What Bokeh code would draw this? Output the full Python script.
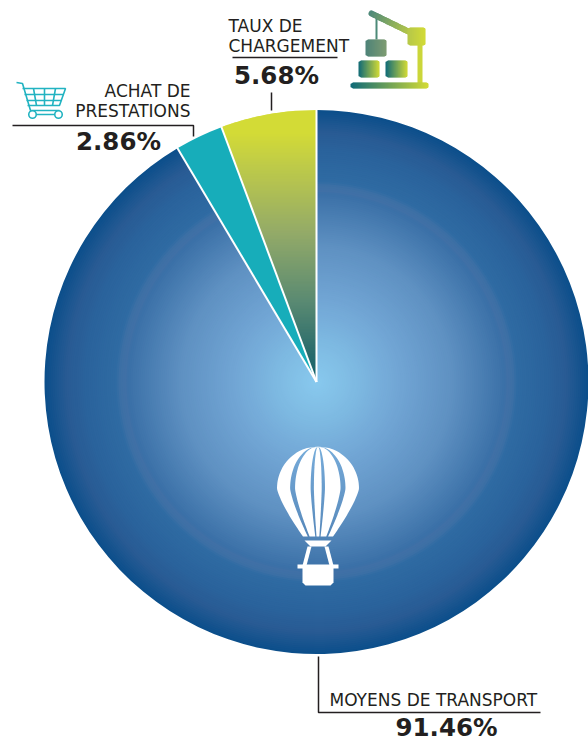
import numpy as np
from bokeh.plotting import figure
from bokeh.embed import file_html
from bokeh.resources import INLINE
from bokeh.models import Range1d
from bokeh.core.properties import value

categories = ["TAUX DE CHARGEMENT", "ACHAT DE PRESTATIONS", "MOYENS DE TRANSPORT"]
shares = [5.68, 2.86, 91.46]
share_labels = ["5.68%", "2.86%", "91.46%"]

WIDTH, HEIGHT = 588, 742
CX_PX, CY_PX, R = 316.0, 381.5, 272.0
INK = "#231f20"
TEAL = "#17adba"
FONT = "DejaVu Sans"


def X(px):
    return px


def Y(py):
    return 742 - py


def hexrgb(c):
    return np.array([int(c[i:i + 2], 16) for i in (1, 3, 5)], float)


def ramp(t, stops):
    ts = [s[0] for s in stops]
    rgb = np.array([hexrgb(s[1]) for s in stops])
    v = [np.interp(t, ts, rgb[:, k]) for k in range(3)]
    return "#%02x%02x%02x" % tuple(int(round(a)) for a in v)


p = figure(width=WIDTH, height=HEIGHT, output_backend="svg", toolbar_location=None,
           x_range=Range1d(0, 588), y_range=Range1d(0, 742), min_border=0,
           outline_line_color=None, background_fill_color="white", border_fill_color="white")
p.axis.visible = False
p.grid.visible = False

cx, cy = X(CX_PX), Y(CY_PX)
angs = np.cumsum([0] + shares) / 100 * 2 * np.pi + np.pi / 2

blue_stops = [(0, "#88c9ee"), (0.12, "#80bde4"), (0.3, "#72a6d5"), (0.5, "#5f91c2"), (0.675, "#3f74aa"),
              (0.695, "#3a70a8"), (0.705, "#4070a6"), (0.725, "#3e70a5"), (0.74, "#2f6ba3"),
              (0.85, "#2a639c"), (0.92, "#295b94"), (1.0, "#0c4f8b")]
rad = np.arange(R, 0, -2.0)
p.wedge(x=[cx] * len(rad), y=[cy] * len(rad), radius=rad, start_angle=angs[2], end_angle=angs[3],
        fill_color=[ramp(r / R, blue_stops) for r in rad], line_color=None)

p.wedge(x=[cx], y=[cy], radius=[R], start_angle=angs[1], end_angle=angs[2],
        fill_color=TEAL, line_color=None)

yellow_stops = [(0, "#0f5f68"), (0.12, "#2c6d6d"), (0.3, "#5a8a72"), (0.55, "#93aa68"),
                (0.8, "#bfcb48"), (0.92, "#d3db36"), (1, "#d3db36")]
tan_a = np.tan(angs[1] - angs[0])


def left_edge(h):
    return -min(h * tan_a, np.sqrt(max(R * R - h * h, 0)))


xs, ys, cols = [], [], []
for h1 in np.arange(R, 0, -1.5):
    h0 = max(h1 - 2.5, 0)
    hs = np.linspace(h0, h1, 4)
    xs.append([cx] + [cx + left_edge(h) for h in hs] + [cx])
    ys.append([cy + h0] + [cy + h for h in hs] + [cy + h1])
    cols.append(ramp(h1 / R, yellow_stops))
p.patches(xs, ys, fill_color=cols, line_color=None)

p.multi_line([[cx, cx + (R + 2) * np.cos(a)] for a in angs[:3]],
             [[cy, cy + (R + 2) * np.sin(a)] for a in angs[:3]], line_color="white", line_width=2)

leaders = [([12, 193, 193], [125, 125, 136]), ([232, 337], [57, 57]), ([271, 271], [92, 110]),
           ([318, 318, 540], [656, 712, 712])]
p.multi_line([[X(a) for a in l[0]] for l in leaders], [[Y(b) for b in l[1]] for l in leaders],
             line_color=INK, line_width=1.5)

LABEL_SIZE, VALUE_SIZE = 17, 24.5
label_rows = [("TAUX DE", 228, 25, "left"), ("CHARGEMENT", 228, 45, "left"),
              ("ACHAT DE", 190, 90, "right"), ("PRESTATIONS", 190, 110, "right"),
              ("MOYENS DE TRANSPORT", 329, 699, "left")]
for t, x, y, al in label_rows:
    p.text([X(x)], [Y(y)], text=[t], text_font=value(FONT), text_font_size=f"{LABEL_SIZE}px", text_color=INK,
           text_align=al, text_baseline="middle")
for t, x, y in zip(share_labels, [276, 118, 446], [75, 141, 727]):
    p.text([X(x)], [Y(y)], text=[t], text_font=value(FONT), text_font_size=f"{VALUE_SIZE}px",
           text_font_style="bold", text_color=INK, text_align="center", text_baseline="middle")

BX = 317.5


def half_width(py):
    if py <= 488:
        return 41 * np.sqrt(max(1 - ((488 - py) / 42) ** 2, 0))
    u = (py - 488) / 48
    return 15 + 26 * (1 - u ** 1.3)


gores = [(-1, -0.68), (-0.56, -0.18), (-0.1, 0.09), (0.17, 0.55), (0.67, 1)]
gy = np.linspace(446, 536, 60)
bx, by = [], []
for f0, f1 in gores:
    bx.append([BX + f0 * half_width(v) for v in gy] + [BX + f1 * half_width(v) for v in gy[::-1]])
    by.append([Y(v) for v in gy] + [Y(v) for v in gy[::-1]])
shapes = [
    ([304, 331, 325, 310], [540, 540, 546, 546]),
    ([307, 311, 306, 302], [546, 546, 565, 565]),
    ([324, 328, 333, 329], [546, 546, 565, 565]),
    ([297, 338, 338, 297], [564, 564, 568, 568]),
    ([302, 333, 333, 330, 305, 302], [567, 567, 582, 585, 585, 582]),
]
for sx, sy in shapes:
    bx.append(sx)
    by.append([Y(v) for v in sy])
p.patches(bx, by, fill_color="white", line_color=None)

cart_lines = [([16, 22, 30, 59], [82, 83, 110, 110]), ([22, 65, 59, 27], [88, 88, 105, 105]),
              ([24, 63], [94, 94]), ([26, 61], [100, 100]),
              ([33, 36], [88, 105]), ([44, 44], [88, 105]), ([55, 52], [88, 105]), ([35, 55], [114, 114])]
p.multi_line([l[0] for l in cart_lines], [[Y(v) for v in l[1]] for l in cart_lines],
             line_color="#22b3c1", line_width=1.6)
p.scatter([32, 58], [Y(114), Y(114)], size=7.5, marker="circle", fill_color="white",
          line_color="#22b3c1", line_width=1.6)


def grad_box(x0, y0, x1, y1, r, c0, c1):
    sx, sy, sc = [], [], []
    for a in np.arange(x0, x1, 1.0):
        b = min(a + 1.6, x1)
        m = a + 0.5
        inset = 0.0
        if m < x0 + r:
            inset = r - np.sqrt(max(r * r - (x0 + r - m) ** 2, 0))
        if m > x1 - r:
            inset = r - np.sqrt(max(r * r - (m - x1 + r) ** 2, 0))
        sx.append([a, b, b, a])
        sy.append([Y(y0 + inset), Y(y0 + inset), Y(y1 - inset), Y(y1 - inset)])
        sc.append(ramp((m - x0) / (x1 - x0), [(0, c0), (1, c1)]))
    p.patches(sx, sy, fill_color=sc, line_color=None)


DK, YL = "#0f6a78", "#d3db36"
p.line([376, 376], [Y(18), Y(39)], line_color="#4c8a78", line_width=2)
bs = np.linspace(0, 1, 16)
p.multi_line([[371 + 41 * a, 371 + 41 * b] for a, b in zip(bs[:-1], bs[1:])],
             [[Y(13 + 20 * a), Y(13 + 20 * b)] for a, b in zip(bs[:-1], bs[1:])],
             line_color=[ramp(a, [(0, "#4f8a7a"), (1, "#bccb45")]) for a in bs[:-1]],
             line_width=6, line_cap="round")
p.quad(left=[417], right=[422], top=[Y(44)], bottom=[Y(84)], fill_color="#cbd63a", line_color=None)
grad_box(407, 27, 425, 45, 3, "#b5c74a", YL)
grad_box(365, 39, 386, 56, 3, "#4d8278", "#7f9c72")
grad_box(358, 60, 379, 77, 3, DK, YL)
grad_box(385, 60, 407, 77, 3, DK, YL)
grad_box(350, 82, 428, 88, 3, DK, YL)

open("out.html", "w").write(file_html(p, INLINE))
